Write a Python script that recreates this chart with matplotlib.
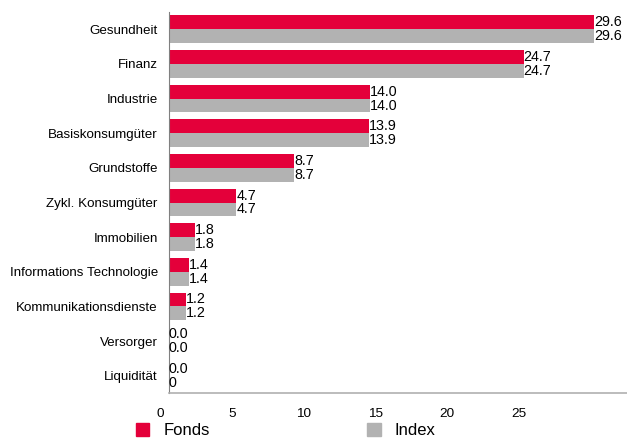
import matplotlib
matplotlib.use("Agg")
import matplotlib.pyplot as plt
import matplotlib.transforms as mtransforms
import numpy as np
from matplotlib.patches import Patch

plt.rcParams["font.family"] = ["Liberation Sans", "DejaVu Sans"]

# data
categories = ["Gesundheit", "Finanz", "Industrie", "Basiskonsumgüter", "Grundstoffe",
              "Zykl. Konsumgüter", "Immobilien", "Informations Technologie",
              "Kommunikationsdienste", "Versorger", "Liquidität"]
fonds = [29.6, 24.7, 14.0, 13.9, 8.7, 4.7, 1.8, 1.4, 1.2, 0.0, 0.0]
index = [29.6, 24.7, 14.0, 13.9, 8.7, 4.7, 1.8, 1.4, 1.2, 0.0, 0.0]
index_labels = ["29.6", "24.7", "14.0", "13.9", "8.7", "4.7", "1.8", "1.4", "1.2", "0.0", "0"]
x_ticks = [0, 5, 10, 15, 20, 25]

RED = "#E4003A"
GREY = "#B2B2B2"

fig = plt.figure(figsize=(6.27, 4.38), dpi=100)
ax = fig.add_axes([0.2695, 0.1027, 0.7305, 0.8699])

y = np.arange(len(categories))
h = 0.4
ax.barh(y - h / 2, fonds, height=h, color=RED)
ax.barh(y + h / 2, index, height=h, color=GREY)

for yi, v in zip(y, fonds):
    ax.text(v, yi - h / 2, f"{v:.1f}", va="center", ha="left", fontsize=10.3)
for yi, v, lab in zip(y, index, index_labels):
    ax.text(v, yi + h / 2, lab, va="center", ha="left", fontsize=10.3)

ax.set_ylim(len(categories) - 0.5, -0.5)
ax.set_xlim(0, 31.9)
ax.set_yticks(y)
ax.set_yticklabels(categories, fontsize=9.6)
ax.tick_params(axis="y", length=0, pad=8)

ax.set_xticks(x_ticks)
ax.set_xticklabels([str(t) for t in x_ticks], fontsize=9.7)
ax.tick_params(axis="x", length=0, pad=11)
shift = mtransforms.ScaledTranslation(-9 / 100, 0, fig.dpi_scale_trans)
for lbl in ax.get_xticklabels():
    lbl.set_transform(lbl.get_transform() + shift)

for s in ["top", "right"]:
    ax.spines[s].set_visible(False)
ax.spines["left"].set_color("#808080")
ax.spines["bottom"].set_color("#B0B0B0")
ax.spines["left"].set_linewidth(0.8)
ax.spines["bottom"].set_linewidth(1.2)

handles = [Patch(color=RED, label="Fonds"), Patch(color=GREY, label="Index")]
fig.legend(handles=handles, loc="lower left", bbox_to_anchor=(0.193, -0.035),
           ncol=2, frameon=False, fontsize=12, handlelength=0.8, handleheight=0.85,
           handletextpad=0.85, columnspacing=9.45)

fig.savefig("out.png", dpi=100)
